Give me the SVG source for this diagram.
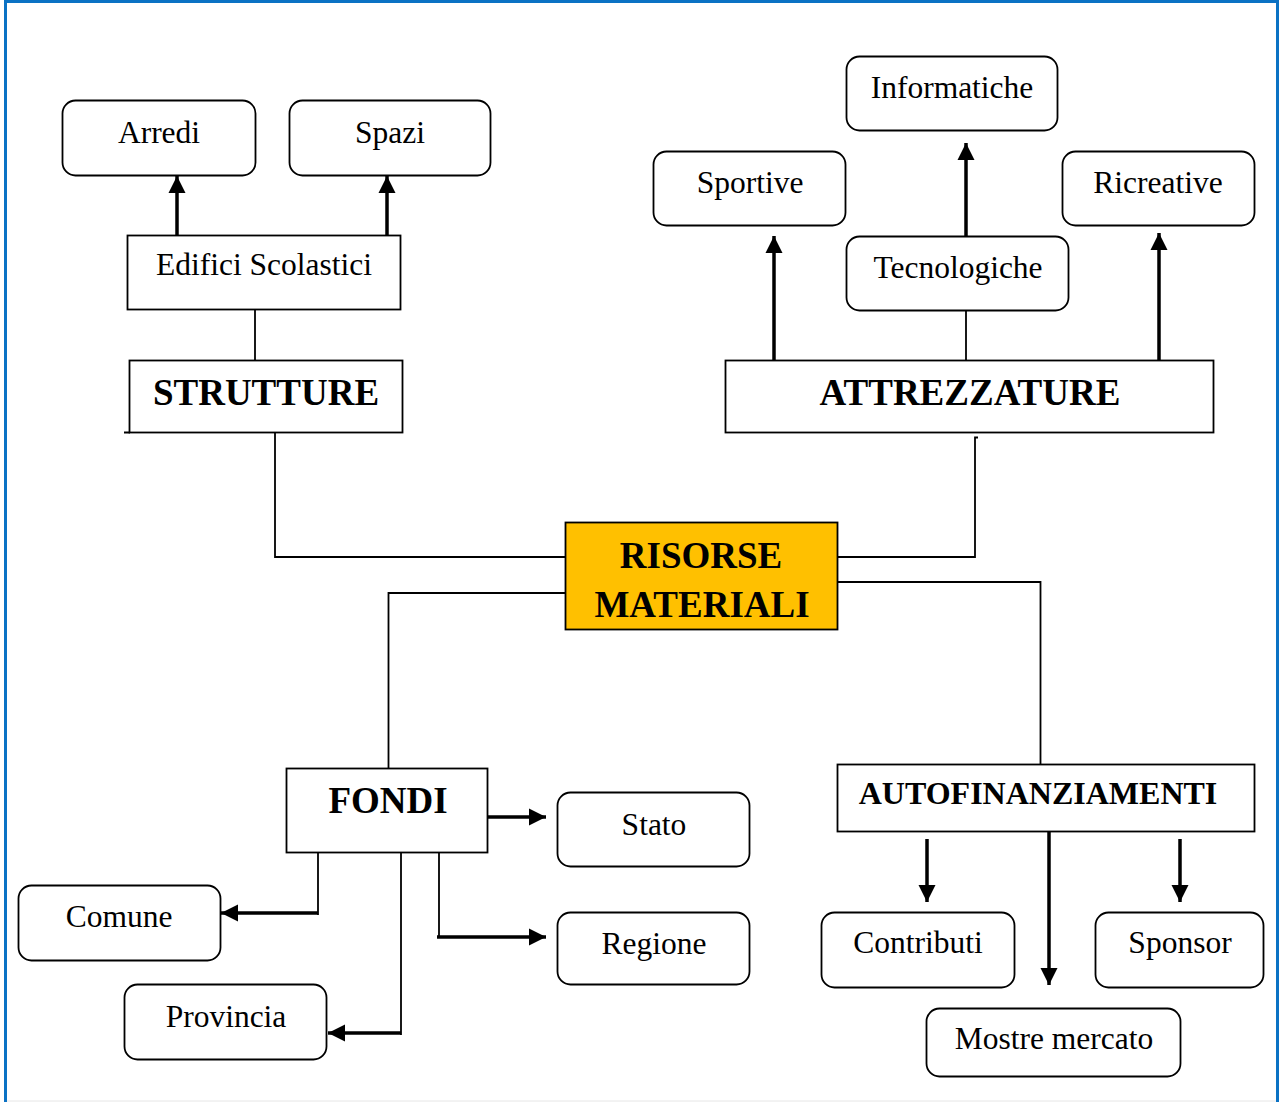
<svg xmlns="http://www.w3.org/2000/svg" width="1279" height="1102" viewBox="0 0 1279 1102">
<style>
.box{fill:#fff;stroke:#000;stroke-width:1.8}
.main{fill:#FFC000;stroke:#000;stroke-width:1.8}
.t{font-family:"Liberation Serif","Times New Roman",serif;font-size:31.5px;fill:#000;text-anchor:middle}
.b{font-family:"Liberation Serif","Times New Roman",serif;font-size:37px;font-weight:bold;fill:#000;text-anchor:middle}
.thin{fill:none;stroke:#000;stroke-width:1.8}
.arr{fill:none;stroke:#000;stroke-width:3.5;marker-end:url(#ah)}
</style>
<defs>
<marker id="ah" markerUnits="userSpaceOnUse" markerWidth="18" markerHeight="18" refX="17" refY="8.5" orient="auto" viewBox="0 0 18 17">
<path d="M0,0 L17,8.5 L0,17 z" fill="#000"/>
</marker>
</defs>
<rect width="1279" height="1102" fill="#fff"/>
<path d="M5.5,0 V1102 M5,1.5 H1277 M1277.5,0 V1102" fill="none" stroke="#0B72C4" stroke-width="3"/>
<line x1="7" y1="1101" x2="1276" y2="1101" stroke="#e6e6e6" stroke-width="1"/>

<g id="connectors">
<line class="arr" x1="177" y1="236" x2="177" y2="176"/>
<line class="arr" x1="387" y1="236" x2="387" y2="176"/>
<line class="thin" x1="255" y1="310" x2="255" y2="360"/>
<path class="thin" d="M124,432.5 H130 M275,432 V557 H565"/>
<line class="arr" x1="774" y1="361" x2="774" y2="236"/>
<line class="arr" x1="966" y1="240" x2="966" y2="143"/>
<line class="arr" x1="1159" y1="360" x2="1159" y2="233"/>
<line class="thin" x1="966" y1="310" x2="966" y2="360"/>
<path class="thin" d="M978,437.5 H975 V557 H837"/>
<path class="thin" d="M565,593 H388.5 V768"/>
<path class="thin" d="M837,582 H1040.5 V765"/>
<line class="arr" x1="485" y1="817" x2="546" y2="817"/>
<path class="thin" d="M318,853 V915"/>
<line class="arr" x1="318" y1="913" x2="221" y2="913"/>
<path class="thin" d="M439,853 V937"/>
<line class="arr" x1="437" y1="937" x2="546" y2="937"/>
<path class="thin" d="M401,853 V1035"/>
<line class="arr" x1="401" y1="1033" x2="328" y2="1033"/>
<line class="arr" x1="927" y1="839" x2="927" y2="902"/>
<line class="arr" x1="1049" y1="825" x2="1049" y2="985"/>
<line class="arr" x1="1180" y1="839" x2="1180" y2="902"/>
</g>

<g id="arredi"><rect class="box" x="62.5" y="100.5" width="193" height="75" rx="13"/><text class="t" x="159" y="143">Arredi</text></g>
<g id="spazi"><rect class="box" x="289.5" y="100.5" width="201" height="75" rx="13"/><text class="t" x="390" y="143">Spazi</text></g>
<g id="edifici"><rect class="box" x="127.5" y="235.5" width="273" height="74"/><text class="t" x="264" y="275">Edifici Scolastici</text></g>
<g id="strutture"><rect class="box" x="129.5" y="360.5" width="273" height="72"/><text class="b" x="266" y="405">STRUTTURE</text></g>

<g id="informatiche"><rect class="box" x="846.5" y="56.5" width="211" height="74" rx="13"/><text class="t" x="952" y="98">Informatiche</text></g>
<g id="sportive"><rect class="box" x="653.5" y="151.5" width="192" height="74" rx="13"/><text class="t" x="750" y="193">Sportive</text></g>
<g id="ricreative"><rect class="box" x="1062.5" y="151.5" width="192" height="74" rx="13"/><text class="t" x="1158" y="193">Ricreative</text></g>
<g id="tecnologiche"><rect class="box" x="846.5" y="236.5" width="222" height="74" rx="13"/><text class="t" x="958" y="278">Tecnologiche</text></g>
<g id="attrezzature"><rect class="box" x="725.5" y="360.5" width="488" height="72"/><text class="b" x="970" y="405">ATTREZZATURE</text></g>

<g id="risorse"><rect class="main" x="565.5" y="522.5" width="272" height="107"/><text class="b" x="701" y="568">RISORSE</text><text class="b" x="702" y="617">MATERIALI</text></g>

<g id="fondi"><rect class="box" x="286.5" y="768.5" width="201" height="84"/><text class="b" x="388" y="813">FONDI</text></g>
<g id="stato"><rect class="box" x="557.5" y="792.5" width="192" height="74" rx="13"/><text class="t" x="654" y="835">Stato</text></g>
<g id="regione"><rect class="box" x="557.5" y="912.5" width="192" height="72" rx="13"/><text class="t" x="654" y="954">Regione</text></g>
<g id="comune"><rect class="box" x="18.5" y="885.5" width="202" height="75" rx="13"/><text class="t" x="119" y="927">Comune</text></g>
<g id="provincia"><rect class="box" x="124.5" y="984.5" width="202" height="75" rx="13"/><text class="t" x="226" y="1027">Provincia</text></g>

<g id="autofinanziamenti"><rect class="box" x="837.5" y="764.5" width="417" height="67"/><text class="b" x="1038" y="804" style="font-size:32px">AUTOFINANZIAMENTI</text></g>
<g id="contributi"><rect class="box" x="821.5" y="912.5" width="193" height="75" rx="13"/><text class="t" x="918" y="953">Contributi</text></g>
<g id="sponsor"><rect class="box" x="1095.5" y="912.5" width="168" height="75" rx="13"/><text class="t" x="1180" y="953">Sponsor</text></g>
<g id="mostre"><rect class="box" x="926.5" y="1008.5" width="254" height="68" rx="13"/><text class="t" x="1054" y="1049">Mostre mercato</text></g>
</svg>
